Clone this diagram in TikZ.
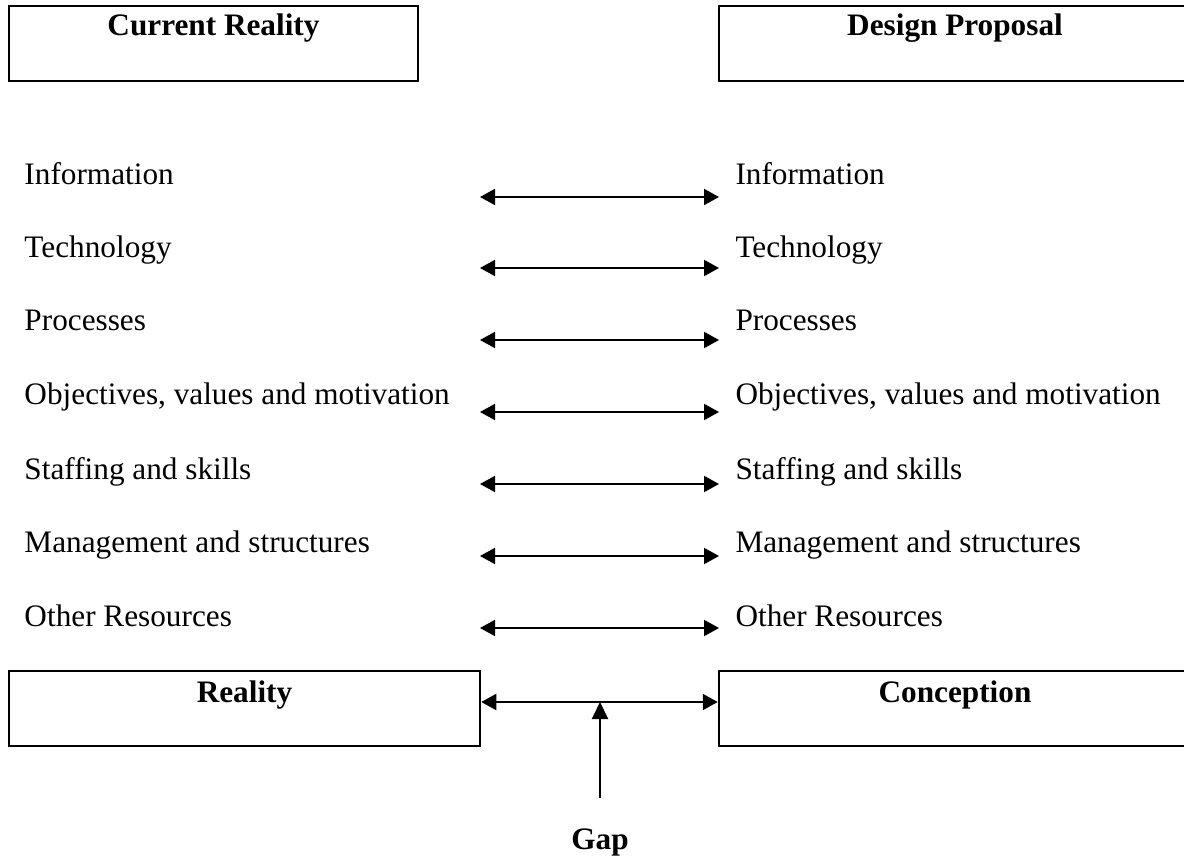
\documentclass[tikz,border=0pt]{standalone}
\usepackage{fontspec}
\setmainfont{Liberation Serif}
\usetikzlibrary{arrows.meta}
\begin{document}
\begin{tikzpicture}[x=0.4pt, y=-0.4pt,
  box/.style={draw, line width=1pt, minimum height=30pt, inner sep=0pt},
  head/.style={anchor=base, font=\fontsize{12.5}{15}\selectfont\bfseries, inner sep=0pt},
  item/.style={anchor=base west, font=\fontsize{12.5}{15}\selectfont, inner sep=0pt},
  link/.style={line width=0.8pt, {Triangle[length=6pt,width=6.4pt]}-{Triangle[length=6pt,width=6.4pt]}}]
\clip (0,0) rectangle (1184,858);
% Top boxes
\node[box, minimum width=163.6pt] (cur) at (213.5,43.5) {};
\node[head] (curlabel) at (213.5,36) {Current Reality};
\node[box, minimum width=188.8pt] (dsg) at (955,43.5) {};
\node[head] (dsglabel) at (955,36) {Design Proposal};
% Left column
\node[item] (l1) at (24,185) {Information};
\node[item] (l2) at (24,258) {Technology};
\node[item] (l3) at (24,331) {Processes};
\node[item] (l4) at (24,405) {Objectives, values and motivation};
\node[item] (l5) at (24,479) {Staffing and skills};
\node[item] (l6) at (24,552) {Management and structures};
\node[item] (l7) at (24,626) {Other Resources};
% Right column
\node[item] (r1) at (735,185) {Information};
\node[item] (r2) at (735,258) {Technology};
\node[item] (r3) at (735,331) {Processes};
\node[item] (r4) at (735,405) {Objectives, values and motivation};
\node[item] (r5) at (735,479) {Staffing and skills};
\node[item] (r6) at (735,552) {Management and structures};
\node[item] (r7) at (735,626) {Other Resources};
% Arrow ends between the columns
\coordinate (a1) at (480,197); \coordinate (b1) at (719,197);
\coordinate (a2) at (480,268); \coordinate (b2) at (719,268);
\coordinate (a3) at (480,340); \coordinate (b3) at (719,340);
\coordinate (a4) at (480,412); \coordinate (b4) at (719,412);
\coordinate (a5) at (480,484); \coordinate (b5) at (719,484);
\coordinate (a6) at (480,556); \coordinate (b6) at (719,556);
\coordinate (a7) at (480,628); \coordinate (b7) at (719,628);
\draw[link] (a1) -- (b1);
\draw[link] (a2) -- (b2);
\draw[link] (a3) -- (b3);
\draw[link] (a4) -- (b4);
\draw[link] (a5) -- (b5);
\draw[link] (a6) -- (b6);
\draw[link] (a7) -- (b7);
% Bottom boxes and the gap
\node[box, minimum width=188.4pt] (real) at (244.5,708.5) {};
\node[head] (reallabel) at (244.5,702) {Reality};
\node[box, minimum width=188.8pt] (conc) at (955,708.5) {};
\node[head] (conclabel) at (955,702) {Conception};
\coordinate (ra) at (real.east |- 0,702);
\coordinate (ca) at (conc.west |- 0,702);
\coordinate (mid) at (600,702);
\draw[link] (ra) -- (ca);
\node[head] (gap) at (600,849) {Gap};
\coordinate (gaptop) at (600,798);
\draw[line width=0.8pt, -{Triangle[length=6.8pt,width=6.4pt]}] (gaptop) -- (mid);
\end{tikzpicture}
\end{document}
